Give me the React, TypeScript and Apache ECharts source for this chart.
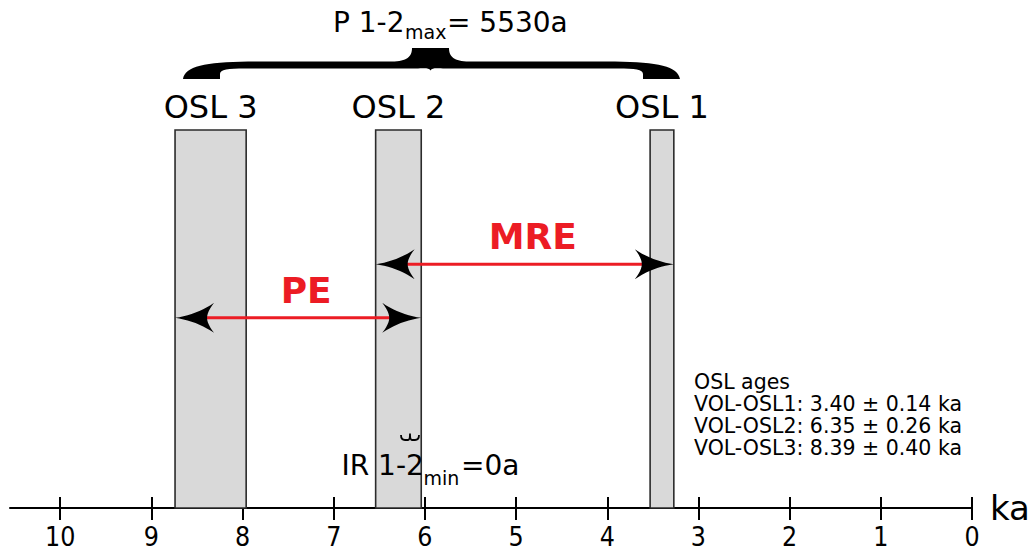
import React, { useEffect, useRef } from 'react';
import * as echarts from 'echarts';

// ---------- data ----------
const sampleNames = ['VOL-OSL1', 'VOL-OSL2', 'VOL-OSL3'];
const barLabels = ['OSL 1', 'OSL 2', 'OSL 3'];
const ages = [3.4, 6.35, 8.39];
const errors = [0.14, 0.26, 0.4];
// bar extents (ka)
const barLow = [3.27, 6.04, 7.96];
const barHigh = [3.53, 6.54, 8.74];
// arrows (ka)
const arrowNames = ['MRE', 'PE'];
const arrowFrom = [6.54, 8.74];
const arrowTo = [3.27, 6.04];
const arrowLevel = [0.645, 0.503];
const tickValues = [0, 1, 2, 3, 4, 5, 6, 7, 8, 9, 10];
const axisMin = 0;
const axisMax = 10.55;
const periodMaxText = '5530a';
const irMinText = '0a';
const legendTitle = 'OSL ages';

const FONT = "'DejaVu Sans', 'Noto Sans', sans-serif";
const FONT_COND = "'DejaVu Sans Condensed', 'DejaVu Sans', sans-serif";
const RED = '#ec1c24';

function bracePath(x0: number, x1: number, cx: number): string {
  const yTop = 48, yArm = 61.5, yIn = 68.5, yFoot = 79, nub = 18.5, fw = 37;
  return [
    `M ${x0} ${yFoot}`,
    `C ${x0 + 2} ${yArm + 5} ${x0 + 22} ${yArm + 0.5} ${x0 + 65} ${yArm}`,
    `L ${cx - nub - 20} ${yArm}`,
    `C ${cx - nub - 5} ${yArm} ${cx - nub} ${yArm - 5} ${cx - nub} ${yTop}`,
    `L ${cx + nub} ${yTop}`,
    `C ${cx + nub} ${yArm - 5} ${cx + nub + 5} ${yArm} ${cx + nub + 20} ${yArm}`,
    `L ${x1 - 65} ${yArm}`,
    `C ${x1 - 22} ${yArm + 0.5} ${x1 - 2} ${yArm + 5} ${x1} ${yFoot}`,
    `L ${x1 - fw} ${yFoot}`,
    `L ${x1 - fw} ${yFoot - 5}`,
    `C ${x1 - fw} ${yIn + 1} ${x1 - fw - 8} ${yIn} ${x1 - fw - 25} ${yIn}`,
    `L ${cx + 15} ${yIn}`,
    `C ${cx + 6} ${yIn} ${cx + 2} ${yIn - 1} ${cx} ${yIn + 2}`,
    `C ${cx - 2} ${yIn - 1} ${cx - 6} ${yIn} ${cx - 15} ${yIn}`,
    `L ${x0 + fw + 25} ${yIn}`,
    `C ${x0 + fw + 8} ${yIn} ${x0 + fw} ${yIn + 1} ${x0 + fw} ${yFoot - 5}`,
    `L ${x0 + fw} ${yFoot}`,
    'Z',
  ].join(' ');
}

const smallBraceD =
  'M 401 435 Q 401 440 405 440 L 408 440 Q 410 440 410 433.5 Q 410 440 412 440 L 415 440 Q 419 440 419 435';

function quad(p0: number[], c: number[], p1: number[], n: number): number[][] {
  const pts: number[][] = [];
  for (let i = 1; i <= n; i++) {
    const t = i / n;
    const a = (1 - t) * (1 - t), b = 2 * (1 - t) * t, d = t * t;
    pts.push([a * p0[0] + b * c[0] + d * p1[0], a * p0[1] + b * c[1] + d * p1[1]]);
  }
  return pts;
}

// arrow head, tip at (tx, ty); body extends in direction sgn (+1 = to the right)
function arrowHead(tx: number, ty: number, sgn: number): number[][] {
  const L = 39, H = 15, N = 7;
  const local: number[][] = [[0, 0]];
  local.push(...quad([0, 0], [0.55 * L, -0.2 * H], [L, -H], 10));
  local.push(...quad([L, -H], [L - N, -0.4 * H], [L - N, 0], 6));
  local.push(...quad([L - N, 0], [L - N, 0.4 * H], [L, H], 6));
  local.push(...quad([L, H], [0.55 * L, 0.2 * H], [0, 0], 10));
  return local.map((p) => [tx + sgn * p[0], ty + p[1]]);
}

export default function App() {
  const ref = useRef<HTMLDivElement>(null);
  useEffect(() => {
    const el = ref.current;
    if (!el) return;
    echarts.graphic.registerShape('bigBrace', echarts.graphic.extendPath(bracePath(183, 680, 430.5), {}));
    echarts.graphic.registerShape('smallBrace', echarts.graphic.extendPath(smallBraceD, {}));
    const chart = echarts.init(el, null, { renderer: 'svg' });

    const legendLines = [legendTitle].concat(
      sampleNames.map((n, i) => `${n}: ${ages[i].toFixed(2)} ± ${errors[i].toFixed(2)} ka`)
    );

    const axisCommon = {
      type: 'value',
      min: axisMin,
      max: axisMax,
      inverse: true,
      position: 'bottom',
      splitLine: { show: false },
    };

    const txt = (x: number, y: number, text: string, size: number, extra: any = {}) => ({
      type: 'text',
      x,
      y,
      z: 10,
      style: {
        text,
        fontSize: size,
        fontFamily: FONT,
        fill: '#000',
        align: 'left',
        verticalAlign: 'middle',
        ...extra,
      },
    });

    const option: any = {
      animation: false,
      backgroundColor: '#fff',
      grid: { left: 10, right: 64, top: 130, bottom: 46 },
      xAxis: [
        {
          ...axisCommon,
          name: 'ka',
          nameLocation: 'start',
          nameGap: 18,
          nameTextStyle: { fontSize: 34, fontFamily: FONT, color: '#000', verticalAlign: 'middle' },
          axisLine: { show: true, lineStyle: { color: '#000', width: 2 } },
          axisTick: { show: true, inside: false, length: 12, customValues: tickValues, lineStyle: { color: '#000', width: 2 } },
          axisLabel: {
            show: true,
            customValues: tickValues,
            margin: 15,
            fontSize: 26.5,
            fontFamily: FONT_COND,
            color: '#000',
            formatter: (v: number) => String(Math.round(v)),
          },
        },
        {
          ...axisCommon,
          axisLine: { show: false },
          axisTick: { show: true, inside: true, length: 11, customValues: tickValues, lineStyle: { color: '#000', width: 2 } },
          axisLabel: { show: false },
        },
      ],
      yAxis: { type: 'value', min: 0, max: 1, show: false },
      series: [
        {
          type: 'custom',
          xAxisIndex: 0,
          z: 1,
          data: barLow.map((lo, i) => [lo, barHigh[i], i]),
          encode: { x: [0, 1] },
          renderItem: (params: any, api: any) => {
            const lo = api.value(0), hi = api.value(1), idx = api.value(2);
            const a = api.coord([hi, 1]);
            const b = api.coord([lo, 0]);
            const x = Math.min(a[0], b[0]);
            const w = Math.abs(b[0] - a[0]);
            return {
              type: 'group',
              children: [
                {
                  type: 'rect',
                  shape: { x, y: a[1], width: w, height: b[1] - a[1] },
                  style: { fill: '#d9d9d9', stroke: '#2b2b2b', lineWidth: 1.6 },
                },
                {
                  type: 'text',
                  x: x + w / 2,
                  y: a[1] - 23,
                  style: {
                    text: barLabels[idx],
                    fontSize: 32,
                    fontFamily: FONT,
                    fill: '#000',
                    align: 'center',
                    verticalAlign: 'middle',
                  },
                },
              ],
            };
          },
        },
        {
          type: 'custom',
          xAxisIndex: 0,
          z: 5,
          data: arrowFrom.map((f, i) => [f, arrowTo[i], arrowLevel[i], i]),
          encode: { x: [0, 1], y: 2 },
          renderItem: (params: any, api: any) => {
            const p1 = api.coord([api.value(0), api.value(2)]);
            const p2 = api.coord([api.value(1), api.value(2)]);
            const idx = api.value(3);
            const l = Math.min(p1[0], p2[0]);
            const r = Math.max(p1[0], p2[0]);
            const y = p1[1];
            return {
              type: 'group',
              children: [
                {
                  type: 'line',
                  shape: { x1: l + 20, y1: y, x2: r - 20, y2: y },
                  style: { stroke: RED, lineWidth: 3 },
                },
                { type: 'polygon', shape: { points: arrowHead(l, y, 1) }, style: { fill: '#000' } },
                { type: 'polygon', shape: { points: arrowHead(r, y, -1) }, style: { fill: '#000' } },
                {
                  type: 'text',
                  x: (l + r) / 2 + 8,
                  y: y - 27.5,
                  style: {
                    text: arrowNames[idx],
                    fontSize: 36,
                    fontWeight: 'bold',
                    fontFamily: FONT,
                    fill: RED,
                    align: 'center',
                    verticalAlign: 'middle',
                  },
                },
              ],
            };
          },
        },
      ],
      graphic: [
        { type: 'bigBrace', x: 0, y: 0, style: { fill: '#000' }, z: 10 },
        { type: 'smallBrace', x: 0, y: 0, style: { fill: 'none', stroke: '#000', lineWidth: 1.8 }, z: 10 },
        txt(333, 22.6, 'P 1-2', 28),
        txt(405, 32.4, 'max', 19),
        txt(447, 22.6, '= ' + periodMaxText, 28),
        txt(341.5, 465.3, 'IR 1-2', 28),
        txt(423.5, 478.4, 'min', 19),
        txt(461, 465.3, '=' + irMinText, 28),
        ...legendLines.map((line, i) => txt(694, 382 + i * 22, line, 20.5, { lineHeight: 22 })),
      ],
    };

    chart.setOption(option);
    return () => chart.dispose();
  }, []);

  return (
    <div
      ref={ref}
      style={{ position: 'fixed', left: 0, top: 0, width: 1036, height: 554, background: '#fff' }}
    />
  );
}
